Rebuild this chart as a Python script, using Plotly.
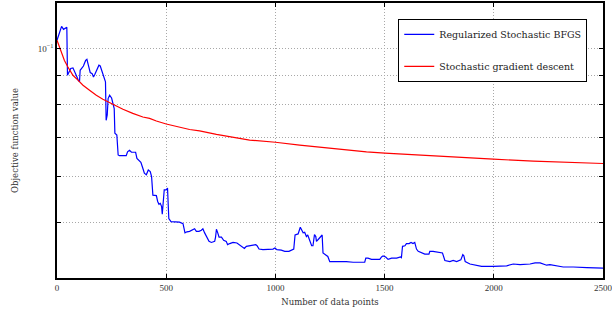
import plotly.graph_objects as go

# ---- data ----
bfgs_x = [0, 11, 21, 30, 37, 42, 45, 48, 57, 63, 73, 79, 88, 97, 103, 106, 112, 121, 131, 137,
          143, 152, 161, 167, 173, 182, 192, 198, 204, 210, 219, 222, 225, 230, 234, 241, 250, 256,
          262, 265, 274, 280, 286, 305, 317, 323, 332, 341, 351, 360, 366, 375, 384, 393, 400, 409,
          418, 427, 433, 439, 448, 455, 461, 467, 473, 479, 482, 488, 491, 500, 506, 512, 522, 561,
          569, 577, 586, 595, 607, 620, 630, 638, 650, 661, 668, 676, 687, 696, 707, 722, 726, 730,
          736, 742, 753, 763, 775, 781, 791, 806, 824, 836, 849, 858, 867, 882, 897, 910, 916, 925,
          943, 974, 989, 998, 1007, 1027, 1043, 1062, 1078, 1084, 1090, 1104, 1114, 1121, 1127,
          1134, 1142, 1148, 1157, 1166, 1172, 1179, 1185, 1188, 1197, 1206, 1214, 1218, 1231, 1240,
          1249, 1264, 1295, 1325, 1356, 1386, 1409, 1414, 1424, 1440, 1463, 1478, 1486, 1493, 1505,
          1516, 1532, 1555, 1573, 1577, 1582, 1593, 1600, 1612, 1621, 1630, 1638, 1646, 1654, 1669,
          1684, 1703, 1707, 1722, 1738, 1753, 1765, 1776, 1799, 1814, 1830, 1849, 1858, 1863, 1869,
          1891, 1921, 1944, 1998, 2059, 2089, 2120, 2166, 2189, 2212, 2242, 2257, 2288, 2318, 2364,
          2395, 2426, 2500]
bfgs_y = [0.1034, 0.1068, 0.1093, 0.1080, 0.1083, 0.1086, 0.1089, 0.0899, 0.0911, 0.0924, 0.0926,
          0.0917, 0.0899, 0.0882, 0.0876, 0.0917, 0.0924, 0.0933, 0.0954, 0.0958, 0.0938, 0.0909,
          0.0905, 0.0893, 0.0902, 0.0921, 0.0936, 0.0933, 0.0917, 0.0905, 0.0887, 0.0876, 0.0751,
          0.0767, 0.0819, 0.0830, 0.0821, 0.0803, 0.0787, 0.0713, 0.0708, 0.0654, 0.0652, 0.0652,
          0.0652, 0.0662, 0.0666, 0.0661, 0.0662, 0.0661, 0.0645, 0.0640, 0.0635, 0.0620, 0.0608,
          0.0604, 0.0616, 0.0612, 0.0600, 0.0557, 0.0557, 0.0556, 0.0543, 0.0537, 0.0539, 0.0532,
          0.0516, 0.0543, 0.0569, 0.0569, 0.0573, 0.0507, 0.0501, 0.0500, 0.0498, 0.0497, 0.0479,
          0.0481, 0.0482, 0.0484, 0.0487, 0.0482, 0.0482, 0.0484, 0.0487, 0.0479, 0.0471, 0.0463,
          0.0461, 0.0463, 0.0471, 0.0486, 0.0479, 0.0471, 0.0471, 0.0465, 0.0463, 0.0457, 0.0459,
          0.0461, 0.0460, 0.0457, 0.0453, 0.0450, 0.0454, 0.0455, 0.0455, 0.0457, 0.0455, 0.0449,
          0.0448, 0.0448, 0.0449, 0.0451, 0.0448, 0.0447, 0.0445, 0.0445, 0.0448, 0.0449, 0.0475,
          0.0477, 0.0490, 0.0485, 0.0479, 0.0480, 0.0472, 0.0475, 0.0465, 0.0455, 0.0455, 0.0476,
          0.0472, 0.0463, 0.0467, 0.0472, 0.0475, 0.0442, 0.0439, 0.0436, 0.0427, 0.0427, 0.0428,
          0.0427, 0.0426, 0.0426, 0.0426, 0.0433, 0.0433, 0.0431, 0.0431, 0.0431, 0.0435, 0.0437,
          0.0435, 0.0431, 0.0433, 0.0433, 0.0435, 0.0434, 0.0454, 0.0455, 0.0459, 0.0459, 0.0461,
          0.0459, 0.0461, 0.0449, 0.0445, 0.0442, 0.0440, 0.0440, 0.0445, 0.0445, 0.0444, 0.0443,
          0.0442, 0.0429, 0.0427, 0.0429, 0.0427, 0.0430, 0.0439, 0.0437, 0.0427, 0.0423, 0.0420,
          0.0419, 0.0419, 0.0420, 0.0423, 0.0422, 0.0423, 0.0425, 0.0425, 0.0421, 0.0422, 0.0420,
          0.0418, 0.0418, 0.0417, 0.0417, 0.0416]

sgd_x = [0, 19, 34, 50, 73, 96, 119, 149, 180, 210, 241, 271, 302, 347, 393, 424, 455, 500, 558,
         607, 653, 730, 882, 1000, 1111, 1264, 1417, 1501, 1646, 1799, 1998, 2181, 2334, 2500]
sgd_y = [0.1034, 0.0987, 0.0954, 0.0929, 0.0899, 0.0882, 0.0864, 0.0847, 0.0830, 0.0817, 0.0806,
         0.0795, 0.0785, 0.0772, 0.0761, 0.0757, 0.0749, 0.0740, 0.0732, 0.0724, 0.0720, 0.0710,
         0.0694, 0.0688, 0.0680, 0.0670, 0.0662, 0.0659, 0.0654, 0.0648, 0.0643, 0.0638, 0.0635,
         0.0632]

series_names = ["Regularized Stochastic BFGS", "Stochastic gradient descent"]
x_ticks = [0, 500, 1000, 1500, 2000, 2500]
y_major = [0.1]
y_major_text = ["10<sup>\u22121</sup>"]
y_minor = [0.05, 0.06, 0.07, 0.08, 0.09]

TICKFONT = "Liberation Serif"
TEXTFONT = "DejaVu Serif"
GRID = dict(gridcolor="#a8a8a8", griddash="1px,2px", gridwidth=1)

fig = go.Figure()
fig.add_trace(go.Scatter(x=bfgs_x, y=bfgs_y, mode="lines", name=series_names[0],
                         line=dict(color="#0000ff", width=1.2), legendgroup="a"))
fig.add_trace(go.Scatter(x=sgd_x, y=sgd_y, mode="lines", name=series_names[1],
                         line=dict(color="#ff0000", width=1.2), legendgroup="b"))

axis_common = dict(showline=True, linecolor="black", linewidth=1.5, mirror="ticks",
                   ticks="inside", ticklen=4, tickcolor="black", tickwidth=1,
                   showgrid=True, **GRID,
                   zeroline=False, automargin=False, ticklabeloverflow="allow",
                   tickfont=dict(family=TICKFONT, size=9, color="#333"))

fig.update_xaxes(range=[0, 2500], tickvals=x_ticks, **axis_common,
                 title=dict(text="Number of data points",
                            font=dict(family=TEXTFONT, size=8.5, color="#333"), standoff=8))
fig.update_yaxes(type="log", range=[-1.39794, -0.92082], tickvals=y_major, ticktext=y_major_text,
                 **axis_common,
                 minor=dict(tickvals=y_minor, ticks="inside", ticklen=4, tickcolor="black",
                            showgrid=True, **GRID),
                 title=dict(text="Objective function value",
                            font=dict(family=TEXTFONT, size=8.5, color="#333"), standoff=18))

fig.update_layout(
    width=612, height=316,
    margin=dict(l=57, r=9, t=3, b=38),
    plot_bgcolor="white", paper_bgcolor="white",
    showlegend=True,
    legend=dict(x=0.625, y=0.942, xanchor="left", yanchor="top",
                bgcolor="white", bordercolor="black", borderwidth=1,
                font=dict(family=TEXTFONT, size=9.5, color="#222"),
                tracegroupgap=13, traceorder="grouped", itemwidth=30),
)

fig.write_html("out.html", config={"displayModeBar": False},
               post_script="document.body.style.margin='0';")
